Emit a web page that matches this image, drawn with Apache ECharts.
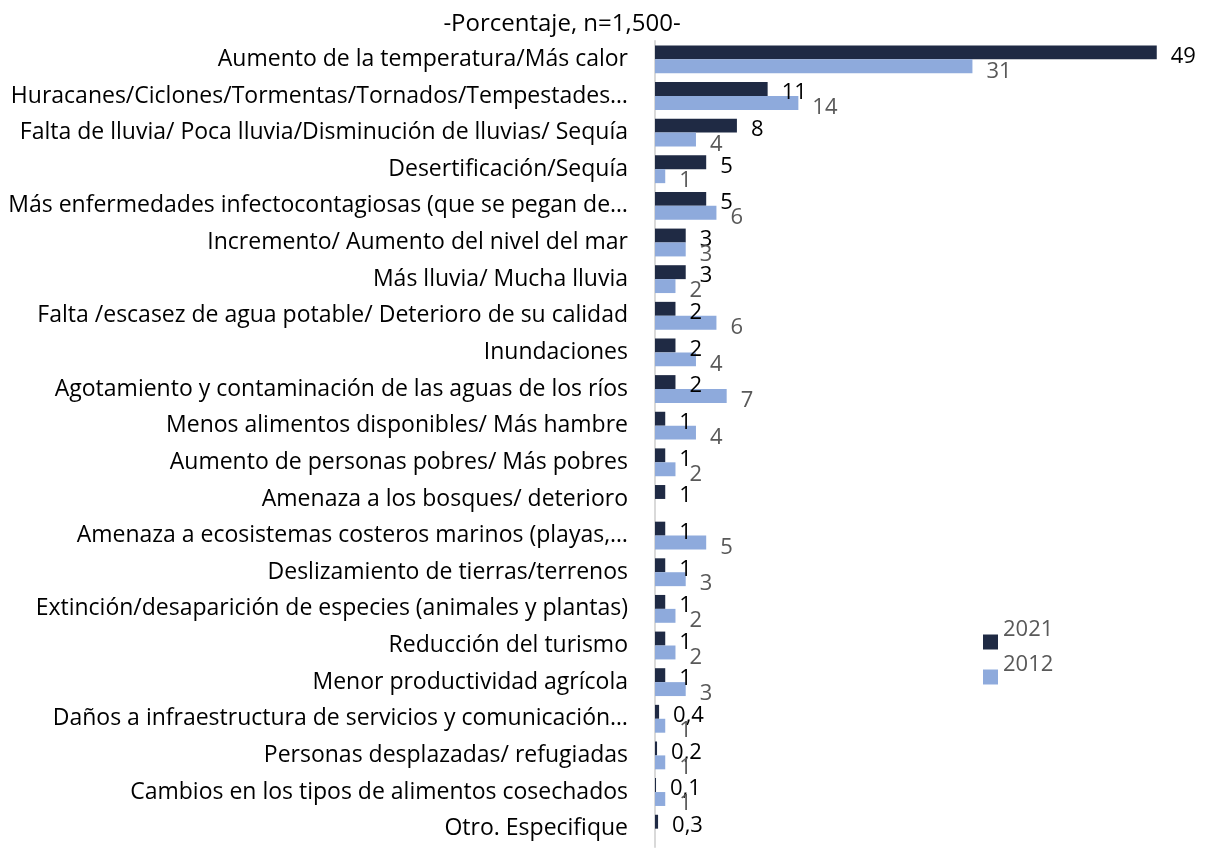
<!DOCTYPE html>
<html>
<head>
<meta charset="utf-8">
<script src="https://cdn.jsdelivr.net/npm/echarts@6/dist/echarts.min.js"></script>
<style>
  html, body { margin: 0; padding: 0; background: #fff; }
  #chart { width: 1208px; height: 851px; }
</style>
</head>
<body>
<div id="chart"></div>
<script>
// categorias y valores (porcentaje)
let categories = [
    "Aumento de la temperatura/Más calor",
    "Huracanes/Ciclones/Tormentas/Tornados/Tempestades…",
    "Falta de lluvia/ Poca lluvia/Disminución de lluvias/ Sequía",
    "Desertificación/Sequía",
    "Más enfermedades infectocontagiosas (que se pegan de…",
    "Incremento/ Aumento del nivel del mar",
    "Más lluvia/ Mucha lluvia",
    "Falta /escasez de agua potable/ Deterioro de su calidad",
    "Inundaciones",
    "Agotamiento y contaminación de las aguas de los ríos",
    "Menos alimentos disponibles/ Más hambre",
    "Aumento de personas pobres/ Más pobres",
    "Amenaza a los bosques/ deterioro",
    "Amenaza a ecosistemas costeros marinos (playas,…",
    "Deslizamiento de tierras/terrenos",
    "Extinción/desaparición de especies (animales y plantas)",
    "Reducción del turismo",
    "Menor productividad agrícola",
    "Daños a infraestructura de servicios y comunicación…",
    "Personas desplazadas/ refugiadas",
    "Cambios en los tipos de alimentos cosechados",
    "Otro. Especifique"
]
let values2021 = [49, 11, 8, 5, 5, 3, 3, 2, 2, 2, 1, 1, 1, 1, 1, 1, 1, 1, 0.4, 0.2, 0.1, 0.3]
let values2012 = [31, 14, 4, 1, 6, 3, 2, 6, 4, 7, 4, 2, '-', 5, 3, 2, 2, 3, 1, 1, 1, '-']

let fmt = function(p) {
    return String(p.value).replace('.', ',')
}

let myChart = echarts.init(document.getElementById('chart'))
let option = {
    animation: false,
    textStyle: { fontFamily: 'Open Sans' },
    title: {
        text: '-Porcentaje, n=1,500-',
        left: 557,
        textAlign: 'center',
        top: 7,
        textStyle: { fontSize: 24, fontWeight: 'normal', color: '#000' }
    },
    legend: {
        data: ['2021', '2012'],
        orient: 'vertical',
        left: 978,
        top: 613,
        icon: 'rect',
        itemWidth: 15,
        itemHeight: 15,
        itemGap: -13,
        formatter: function(name) {
            // texto un poco por encima del marcador, como en el original
            return name + '\n '
        },
        textStyle: { fontSize: 22, lineHeight: 24, color: '#595959' }
    },
    grid: {
        left: 655,
        right: 41,
        top: 41,
        bottom: 4,
        containLabel: false
    },
    xAxis: {
        type: 'value',
        min: 0,
        max: 50,
        show: false
    },
    yAxis: {
        type: 'category',
        inverse: true,
        data: categories,
        axisLine: { lineStyle: { color: '#d9d9d9', width: 2 } },
        axisTick: { show: false },
        axisLabel: { fontSize: 23, color: '#000', margin: 27 }
    },
    series: [{
        name: '2021',
        type: 'bar',
        data: values2021,
        barGap: '0%',
        barCategoryGap: '24%',
        itemStyle: { color: '#1f2a44' },
        label: {
            show: true,
            position: 'right',
            distance: 14,
            offset: [0, 4],
            fontSize: 22,
            color: '#000',
            formatter: fmt
        }
    }, {
        name: '2012',
        type: 'bar',
        data: values2012,
        itemStyle: { color: '#8eaadc' },
        label: {
            show: true,
            position: 'right',
            distance: 14,
            offset: [0, 5],
            fontSize: 22,
            color: '#595959',
            formatter: fmt
        }
    }]
}
myChart.setOption(option)
</script>
</body>
</html>
